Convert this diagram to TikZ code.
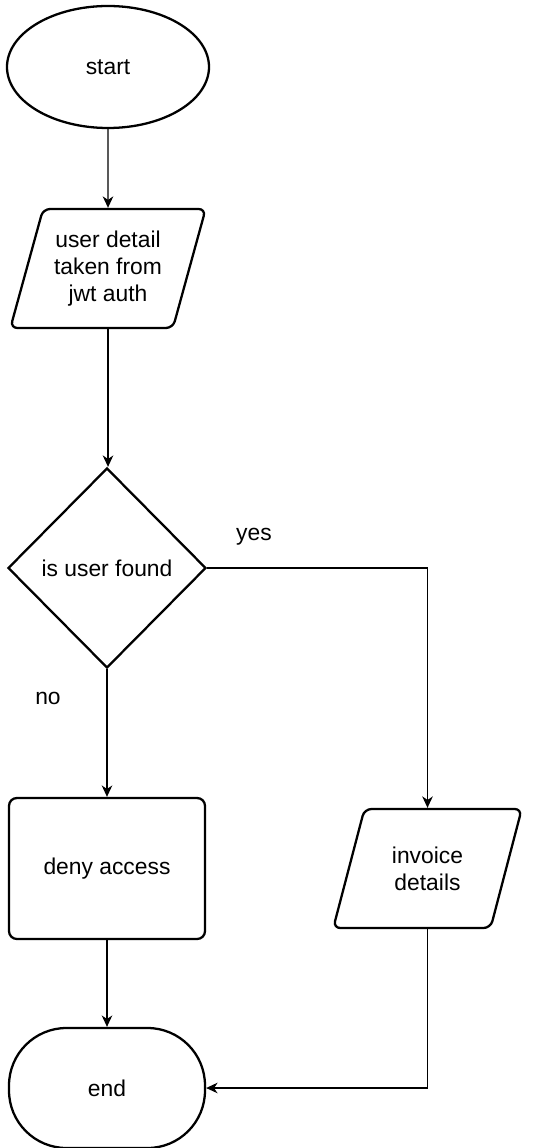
\documentclass[tikz,border=0pt]{standalone}
\usepackage{fontspec}
\setmainfont{Liberation Sans}
\usetikzlibrary{shapes.geometric}
\usetikzlibrary{arrows.meta}
\usetikzlibrary{positioning}

\begin{document}
\begin{tikzpicture}[
  font=\fontsize{13}{15.2}\selectfont,
  shapebox/.style={draw, line width=1.3pt, align=center, inner sep=0pt},
  io/.style={shapebox, trapezium, trapezium stretches=true, rounded corners=4pt},
  flow/.style={line width=0.75pt, -{Stealth[length=6.5pt,width=6pt,inset=2pt]}}
]
\useasboundingbox (0,0) rectangle (10.78,-22.96);
\node[shapebox, ellipse, minimum width=4.04cm, minimum height=2.44cm] (start) at (2.16,-1.34) {start};
\node[io, trapezium left angle=70, trapezium right angle=110, minimum width=3.92cm, minimum height=2.38cm] (user) at (2.16,-5.37) {user detail\\taken from\\jwt auth};
\node[shapebox, diamond, minimum width=3.96cm, minimum height=4cm] (found) at (2.14,-11.36) {is user found};
\node[shapebox, rectangle, rounded corners=4.5pt, minimum width=3.92cm, minimum height=2.82cm] (deny) at (2.14,-17.37) {deny access};
\node[io, trapezium left angle=68, trapezium right angle=112, minimum width=3.78cm, minimum height=2.38cm] (invoice) at (8.55,-17.37) {invoice\\details};
\node[shapebox, rectangle, rounded corners=1.15cm, minimum width=3.92cm, minimum height=2.4cm] (end) at (2.14,-21.76) {end};
\node (yes) at (5.08,-10.74) {yes};
\node (no) at (0.96,-13.96) {no};

\draw[flow] (start) -- (user);
\draw[flow] (user.south) -- (user.south |- found.north);
\draw[flow] (found) -- (deny);
\draw[flow] (found.east) -| (invoice.north);
\draw[flow] (deny) -- (end);
\draw[flow] (invoice.south) |- (end.east);
\end{tikzpicture}
\end{document}
